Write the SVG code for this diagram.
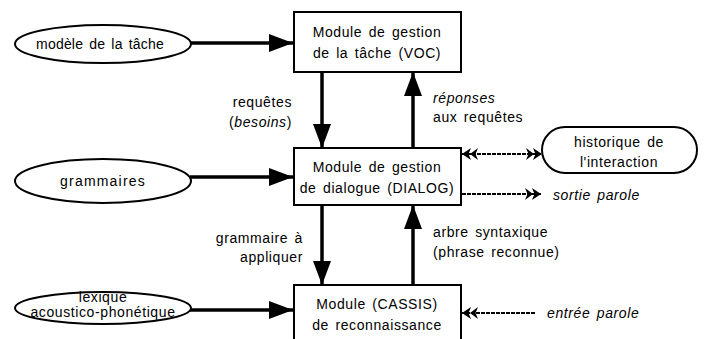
<svg xmlns="http://www.w3.org/2000/svg" width="707" height="339" viewBox="0 0 707 339">
<defs>
<style>
text{font-family:"Liberation Sans",Arial,sans-serif;font-size:14px;fill:#000;letter-spacing:0.6px;word-spacing:2px}
.it{font-style:italic}
.box{fill:#fff;stroke:#000;stroke-width:2}
.ell{fill:#fff;stroke:#000;stroke-width:2}
.solid{stroke:#000;stroke-width:3.5;fill:none}
.dash{stroke:#000;stroke-width:2;fill:none;stroke-dasharray:4 1}
.mid{text-anchor:middle}
.end{text-anchor:end}
</style>
<marker id="ah" markerUnits="userSpaceOnUse" markerWidth="24" markerHeight="18" refX="24" refY="9" orient="auto">
<path d="M0,0 L24,9 L0,18 Z" fill="#000"/>
</marker>
<marker id="dh" markerUnits="userSpaceOnUse" markerWidth="16" markerHeight="12" refX="16" refY="6" orient="auto">
<path d="M0,0 L8,6 L0,12 L2.5,6 Z M7,0 L16,6 L7,12 L9.5,6 Z" fill="#000"/>
</marker>
<marker id="dhs" markerUnits="userSpaceOnUse" markerWidth="16" markerHeight="12" refX="0" refY="6" orient="auto">
<path d="M16,0 L8,6 L16,12 L13.5,6 Z M9,0 L0,6 L9,12 L6.5,6 Z" fill="#000"/>
</marker>
</defs>

<g id="connectors">
<line class="solid" x1="190" y1="43" x2="293" y2="43" marker-end="url(#ah)"/>
<line class="solid" x1="190" y1="177" x2="293" y2="177" marker-end="url(#ah)"/>
<line class="solid" x1="190" y1="310" x2="293" y2="310" marker-end="url(#ah)"/>
<line class="solid" x1="322" y1="72" x2="322" y2="148" marker-end="url(#ah)"/>
<line class="solid" x1="413" y1="148" x2="413" y2="72" marker-end="url(#ah)"/>
<line class="solid" x1="322" y1="205" x2="322" y2="285" marker-end="url(#ah)"/>
<line class="solid" x1="413" y1="285" x2="413" y2="205" marker-end="url(#ah)"/>
<line class="dash" x1="462" y1="154" x2="542" y2="154" marker-start="url(#dhs)" marker-end="url(#dh)"/>
<line class="dash" x1="462" y1="194" x2="541" y2="194" marker-end="url(#dh)"/>
<line class="dash" x1="535" y1="313" x2="462" y2="313" marker-end="url(#dh)"/>
</g>

<g id="ellipse-tache">
<ellipse class="ell" cx="103" cy="44" rx="88" ry="19"/>
<text class="mid" x="100" y="49" style="letter-spacing:0.2px">modèle de la tâche</text>
</g>
<g id="ellipse-grammaires">
<ellipse class="ell" cx="103" cy="181" rx="88" ry="22"/>
<text class="mid" x="103" y="186" style="letter-spacing:1.2px">grammaires</text>
</g>
<g id="ellipse-lexique">
<ellipse class="ell" cx="103" cy="308" rx="88" ry="16"/>
<text class="mid" x="103" y="302">lexique</text>
<text class="mid" x="103" y="317">acoustico-phonétique</text>
</g>

<g id="box-voc">
<rect class="box" x="294" y="12" width="167" height="60"/>
<text class="mid" x="377" y="37">Module de gestion</text>
<text class="mid" x="377" y="58">de la tâche (VOC)</text>
</g>
<g id="box-dialog">
<rect class="box" x="294" y="148" width="167" height="57"/>
<text class="mid" x="377" y="172">Module de gestion</text>
<text class="mid" x="377" y="193">de dialogue (DIALOG)</text>
</g>
<g id="box-cassis">
<rect class="box" x="294" y="285" width="167" height="60"/>
<text class="mid" x="377" y="309">Module (CASSIS)</text>
<text class="mid" x="377" y="330">de reconnaissance</text>
</g>
<g id="historique">
<rect class="box" x="542" y="127" width="155" height="46" rx="23" ry="23"/>
<text class="mid" x="619" y="147">historique de</text>
<text class="mid" x="619" y="167">l'interaction</text>
</g>

<g id="labels">
<text class="end" x="292" y="107">requêtes</text>
<text class="end" x="292" y="127">(<tspan class="it">besoins</tspan>)</text>
<text class="it" x="433" y="103">réponses</text>
<text x="433" y="122">aux requêtes</text>
<text class="end" x="303" y="243">grammaire à</text>
<text class="end" x="303" y="262">appliquer</text>
<text x="433" y="237">arbre syntaxique</text>
<text x="433" y="257">(phrase reconnue)</text>
<text class="it" x="553" y="200">sortie parole</text>
<text class="it" x="547" y="318">entrée parole</text>
</g>
</svg>
